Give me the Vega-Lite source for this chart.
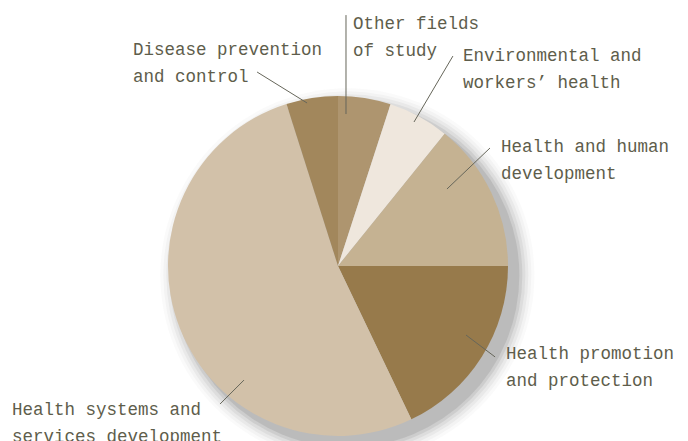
{
  "$schema": "https://vega.github.io/schema/vega-lite/v6.json",
  "width": 340,
  "height": 340,
  "autosize": "none",
  "padding": {"left": 168, "top": 96, "right": 180, "bottom": 5},
  "background": "#ffffff",
  "config": {"view": {"stroke": null}},
  "datasets": {
    "slices": [
      {"cat": "Other fields of study", "value": 5.0, "ord": 1},
      {"cat": "Environmental and workers' health", "value": 5.8, "ord": 2},
      {"cat": "Health and human development", "value": 14.2, "ord": 3},
      {"cat": "Health promotion and protection", "value": 17.9, "ord": 4},
      {"cat": "Health systems and services development", "value": 52.2, "ord": 5},
      {"cat": "Disease prevention and control", "value": 4.9, "ord": 6}
    ],
    "shadow": [{"sx": 0.055, "sy": -0.055, "v": 100}],
    "labels": [
      {"label": "Other fields\nof study", "lx": 0.088, "ly": 1.394},
      {"label": "Disease prevention\nand control", "lx": -1.206, "ly": 1.241},
      {"label": "Environmental and\nworkers’ health", "lx": 0.735, "ly": 1.206},
      {"label": "Health and human\ndevelopment", "lx": 0.959, "ly": 0.671},
      {"label": "Health promotion\nand protection", "lx": 0.988, "ly": -0.547},
      {"label": "Health systems and\nservices development", "lx": -1.918, "ly": -0.876}
    ],
    "leaders": [
      {"x1": 0.047, "y1": 1.476, "x2": 0.047, "y2": 0.894},
      {"x1": -0.476, "y1": 1.141, "x2": -0.182, "y2": 0.959},
      {"x1": 0.676, "y1": 1.235, "x2": 0.447, "y2": 0.847},
      {"x1": 0.894, "y1": 0.694, "x2": 0.641, "y2": 0.453},
      {"x1": 0.753, "y1": -0.406, "x2": 0.924, "y2": -0.535},
      {"x1": -0.553, "y1": -0.671, "x2": -0.694, "y2": -0.812}
    ]
  },
  "layer": [
    {
      "data": {"name": "shadow"},
      "mark": {"type": "arc", "radius": 187, "fill": "#555555", "opacity": 0.03},
      "encoding": {
        "theta": {"field": "v", "type": "quantitative"},
        "x": {"field": "sx", "type": "quantitative", "scale": {"domain": [-1, 1], "nice": false, "zero": false}, "axis": null},
        "y": {"field": "sy", "type": "quantitative", "scale": {"domain": [-1, 1], "nice": false, "zero": false}, "axis": null}
      }
    },
    {
      "data": {"name": "shadow"},
      "mark": {"type": "arc", "radius": 184, "fill": "#555555", "opacity": 0.04},
      "encoding": {
        "theta": {"field": "v", "type": "quantitative"},
        "x": {"field": "sx", "type": "quantitative", "scale": {"domain": [-1, 1], "nice": false, "zero": false}, "axis": null},
        "y": {"field": "sy", "type": "quantitative", "scale": {"domain": [-1, 1], "nice": false, "zero": false}, "axis": null}
      }
    },
    {
      "data": {"name": "shadow"},
      "mark": {"type": "arc", "radius": 181, "fill": "#555555", "opacity": 0.06},
      "encoding": {
        "theta": {"field": "v", "type": "quantitative"},
        "x": {"field": "sx", "type": "quantitative", "scale": {"domain": [-1, 1], "nice": false, "zero": false}, "axis": null},
        "y": {"field": "sy", "type": "quantitative", "scale": {"domain": [-1, 1], "nice": false, "zero": false}, "axis": null}
      }
    },
    {
      "data": {"name": "shadow"},
      "mark": {"type": "arc", "radius": 178, "fill": "#555555", "opacity": 0.08},
      "encoding": {
        "theta": {"field": "v", "type": "quantitative"},
        "x": {"field": "sx", "type": "quantitative", "scale": {"domain": [-1, 1], "nice": false, "zero": false}, "axis": null},
        "y": {"field": "sy", "type": "quantitative", "scale": {"domain": [-1, 1], "nice": false, "zero": false}, "axis": null}
      }
    },
    {
      "data": {"name": "shadow"},
      "mark": {"type": "arc", "radius": 175, "fill": "#555555", "opacity": 0.11},
      "encoding": {
        "theta": {"field": "v", "type": "quantitative"},
        "x": {"field": "sx", "type": "quantitative", "scale": {"domain": [-1, 1], "nice": false, "zero": false}, "axis": null},
        "y": {"field": "sy", "type": "quantitative", "scale": {"domain": [-1, 1], "nice": false, "zero": false}, "axis": null}
      }
    },
    {
      "data": {"name": "shadow"},
      "mark": {"type": "arc", "radius": 172, "fill": "#555555", "opacity": 0.15},
      "encoding": {
        "theta": {"field": "v", "type": "quantitative"},
        "x": {"field": "sx", "type": "quantitative", "scale": {"domain": [-1, 1], "nice": false, "zero": false}, "axis": null},
        "y": {"field": "sy", "type": "quantitative", "scale": {"domain": [-1, 1], "nice": false, "zero": false}, "axis": null}
      }
    },
    {
      "data": {"name": "slices"},
      "mark": {"type": "arc", "radius": 170},
      "encoding": {
        "theta": {"field": "value", "type": "quantitative", "stack": true},
        "order": {"field": "ord", "type": "quantitative"},
        "color": {
          "field": "cat",
          "type": "nominal",
          "legend": null,
          "scale": {
            "domain": ["Other fields of study", "Environmental and workers' health", "Health and human development", "Health promotion and protection", "Health systems and services development", "Disease prevention and control"],
            "range": ["#ae956f", "#efe7dd", "#c5b292", "#977a4b", "#d2c1a9", "#a2875c"]
          }
        }
      }
    },
    {
      "data": {"name": "leaders"},
      "mark": {"type": "rule", "color": "#66665a", "strokeWidth": 1},
      "encoding": {
        "x": {"field": "x1", "type": "quantitative", "scale": {"domain": [-1, 1], "nice": false, "zero": false}, "axis": null},
        "y": {"field": "y1", "type": "quantitative", "scale": {"domain": [-1, 1], "nice": false, "zero": false}, "axis": null},
        "x2": {"field": "x2"},
        "y2": {"field": "y2"}
      }
    },
    {
      "data": {"name": "labels"},
      "mark": {"type": "text", "align": "left", "baseline": "alphabetic", "lineBreak": "\n", "lineHeight": 27, "font": "Liberation Mono", "fontSize": 17.5, "color": "#5e5d4b"},
      "encoding": {
        "x": {"field": "lx", "type": "quantitative", "scale": {"domain": [-1, 1], "nice": false, "zero": false}, "axis": null},
        "y": {"field": "ly", "type": "quantitative", "scale": {"domain": [-1, 1], "nice": false, "zero": false}, "axis": null},
        "text": {"field": "label", "type": "nominal"}
      }
    }
  ]
}
